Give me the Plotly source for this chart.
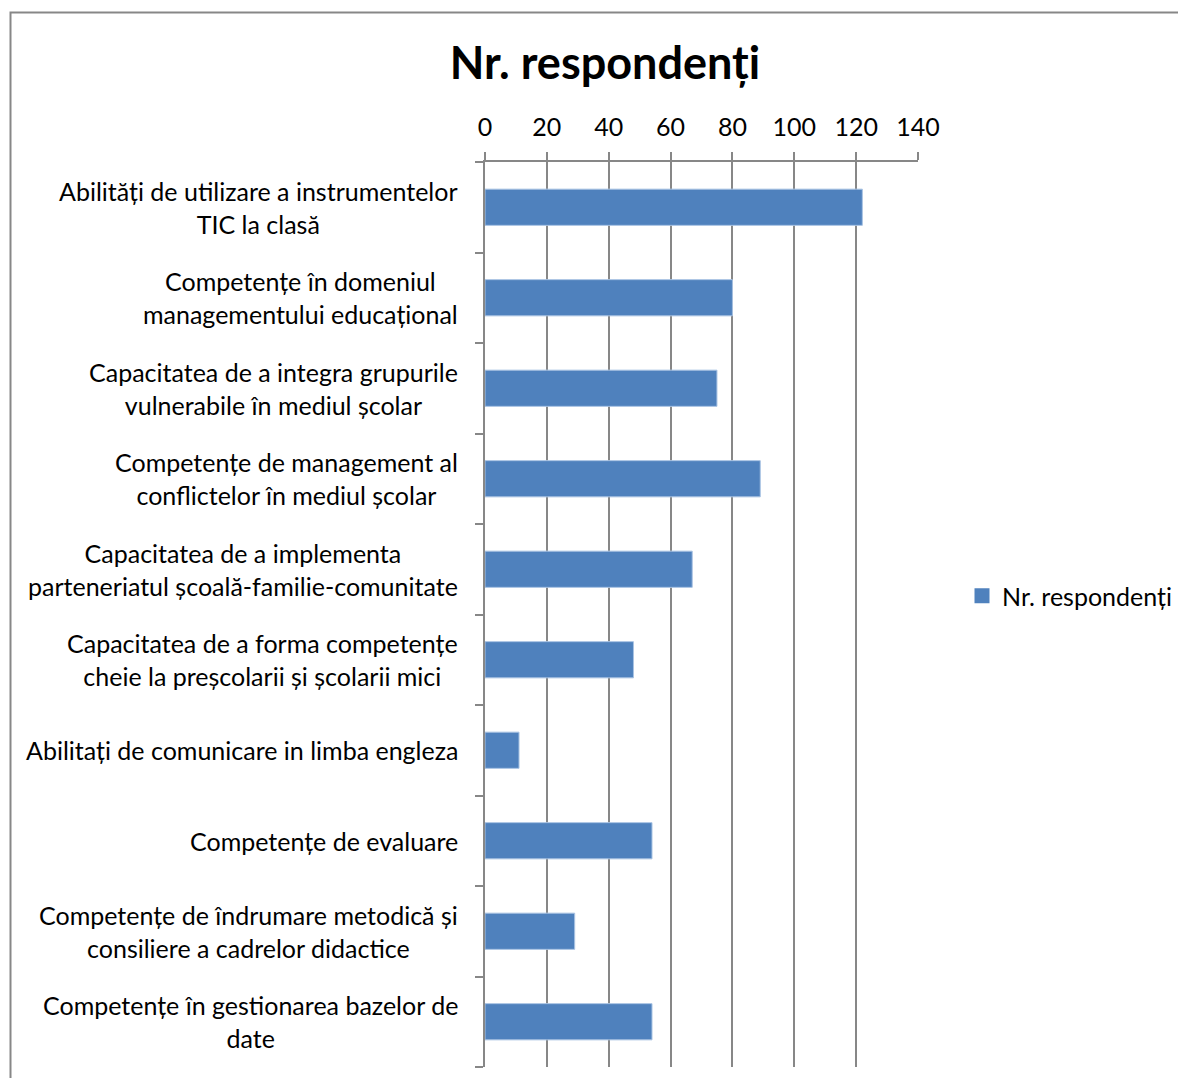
import plotly.graph_objects as go

categories = [
    "Abilități de utilizare a instrumentelor<br>TIC la clasă",
    "Competențe în domeniul<br>managementului educațional",
    "Capacitatea de a integra grupurile<br>vulnerabile în mediul școlar",
    "Competențe de management al<br>conflictelor în mediul școlar",
    "Capacitatea de a implementa<br>parteneriatul școală-familie-comunitate",
    "Capacitatea de a forma competențe<br>cheie la preșcolarii și școlarii mici",
    "Abilitați de comunicare in limba engleza",
    "Competențe de evaluare",
    "Competențe de îndrumare metodică și<br>consiliere a cadrelor didactice",
    "Competențe în gestionarea bazelor de<br>date",
]
values = [122, 80, 75, 89, 67, 48, 11, 54, 29, 54]
series_name = "Nr. respondenți"
x_ticks = [0, 20, 40, 60, 80, 100, 120, 140]

# page geometry (target pixels); the browser body adds an 8px margin
OFF = 8
PW, PH = 1186, 1086
W, H = PW - 2 * OFF, PH - 2 * OFF
L, R, T, B = 485, 918, 162, 1067   # plot area in page pixels
FONT = "Lato"
FS = 25
GRAY = "#878787"
BLUE = "#4F81BD"

def px_x(p):
    return (p - L) / (R - L)

def px_y(p):
    return (B - p) / (B - T)

fig = go.Figure()
fig.add_trace(go.Bar(
    x=values, y=list(range(len(categories))), orientation="h",
    name=series_name,
    marker=dict(color=BLUE, line=dict(color="#A9C3E3", width=1)),
    showlegend=False,
))
# legend entry with a larger square marker
fig.add_trace(go.Scatter(
    x=[None], y=[None], mode="markers", name=series_name,
    marker=dict(symbol="square", size=15, color=BLUE),
    showlegend=True, hoverinfo="skip",
))

annotations = []
for i, c in enumerate(categories):
    annotations.append(dict(
        x=-(25 / (R - L)), xref="paper", y=i, yref="y",
        text=c, showarrow=False, xanchor="right", yanchor="middle",
        align="center", font=dict(family=FONT, size=FS, color="#000000"),
    ))

shapes = [dict(type="rect", xref="paper", yref="paper",
               x0=px_x(10.5), x1=px_x(1220), y0=px_y(12.5), y1=px_y(1120),
               line=dict(color=GRAY, width=2), fillcolor="rgba(0,0,0,0)", layer="below")]

fig.update_layout(
    width=W, height=H,
    margin=dict(l=L - OFF, r=W - (R - OFF), t=T - OFF, b=H - (B - OFF), pad=0,
                autoexpand=False),
    paper_bgcolor="white", plot_bgcolor="white",
    font=dict(family=FONT, size=FS, color="#000000"),
    title=dict(text="<b>Nr. respondenți</b>", x=(605 - OFF) / W, xanchor="center",
               y=1 - (63 - OFF) / H, yanchor="middle",
               font=dict(family=FONT, size=45, color="#000000")),
    bargap=0.6,
    xaxis=dict(
        side="top", range=[0, 140], tickvals=x_ticks, ticktext=[str(v) for v in x_ticks],
        showgrid=True, gridcolor=GRAY, gridwidth=2,
        showline=True, linecolor=GRAY, linewidth=2,
        ticks="outside", ticklen=8, tickcolor=GRAY, tickwidth=2,
        ticklabelstandoff=6,
        tickfont=dict(family=FONT, size=FS, color="#000000"),
        zeroline=False, fixedrange=True, automargin=False,
    ),
    yaxis=dict(
        range=[len(categories) - 0.5, -0.5],
        tickvals=[i - 0.5 for i in range(len(categories) + 1)],
        showticklabels=False,
        ticks="outside", ticklen=8, tickcolor=GRAY, tickwidth=2,
        showline=True, linecolor=GRAY, linewidth=2,
        showgrid=False, zeroline=False, fixedrange=True, automargin=False,
    ),
    legend=dict(x=px_x(962), y=px_y(596), xanchor="left", yanchor="middle",
                font=dict(family=FONT, size=FS, color="#000000"),
                bgcolor="rgba(0,0,0,0)", itemwidth=30),
    annotations=annotations,
    shapes=shapes,
)

fig.write_html("out.html")
